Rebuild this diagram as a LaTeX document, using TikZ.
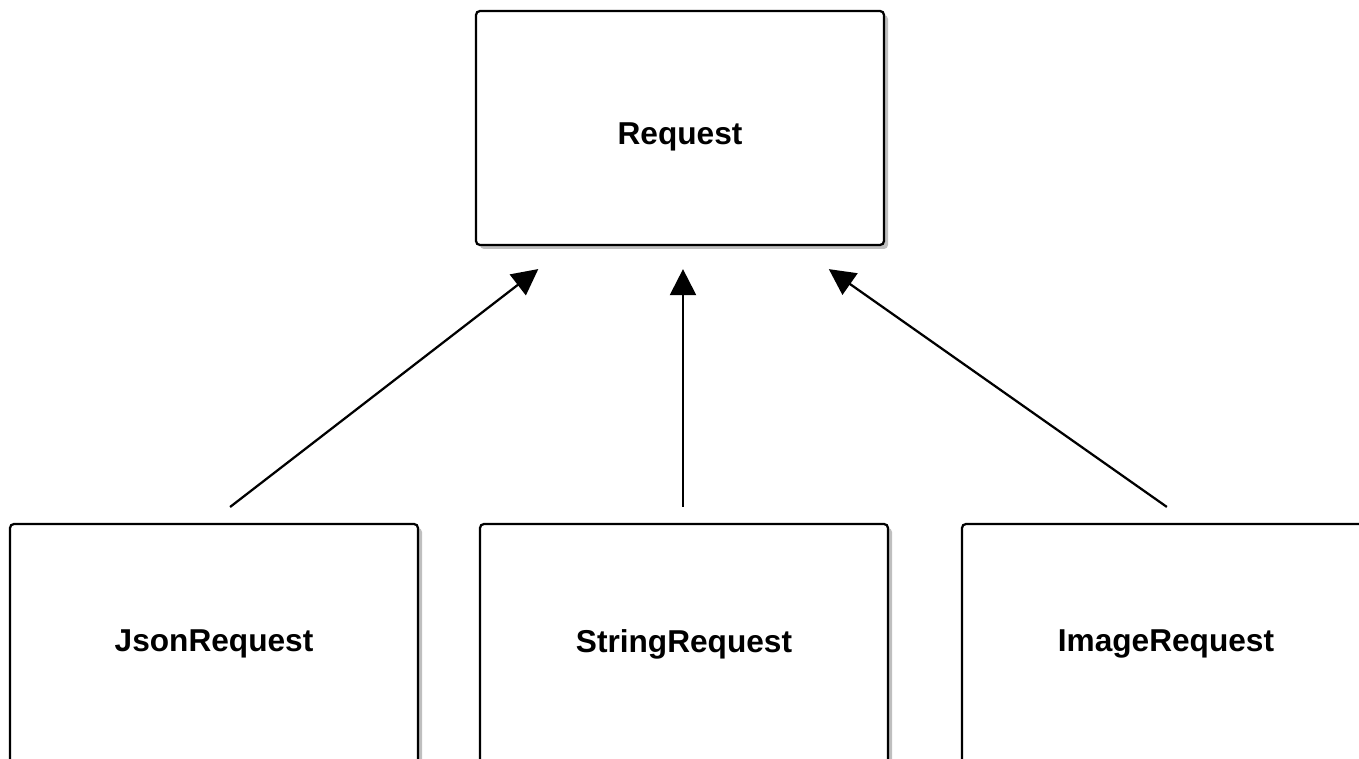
\documentclass[tikz,border=0pt]{standalone}
\usepackage{fontspec}
\setmainfont{Liberation Sans}
\usepackage{tikz}
\usetikzlibrary{arrows.meta}
\usetikzlibrary{shadows}
\usetikzlibrary{calc}
\tikzset{classbox/.style = {draw, fill=white, line width=0.045cm, rounded corners=0.08cm,
                            minimum width=8.16cm, minimum height=4.68cm, inner sep=0pt,
                            font=\fontsize{18}{22}\selectfont\bfseries,
                            drop shadow={shadow xshift=0.08cm, shadow yshift=-0.08cm,
                                         fill=black, opacity=0.25}},
         inherit/.style = {line width=0.045cm,
                           -{Triangle[length=0.52cm, width=0.52cm]}}}

\begin{document}
\begin{tikzpicture}
    \useasboundingbox (0, 0) rectangle (27.18, 15.18);
    \fill [white] (0, 0) rectangle (27.18, 15.18);

    \node [classbox, text height=0.81cm] (req) at (13.6, 12.62) {Request};

    \node [classbox, minimum height=4.8cm] (json)  at (4.28, 2.3)  {JsonRequest};
    \node [classbox, minimum height=4.8cm] (str)   at (13.68, 2.3) {StringRequest};
    \node [classbox, minimum height=4.8cm] (image) at (23.32, 2.3) {ImageRequest};

    \draw [inherit, shorten <=0.52cm, shorten >=0.75cm]
        ([xshift=-0.09cm]json.north) -- ($(req.south west)!0.227!(req.south east)$);
    \draw [inherit, shorten <=0.32cm, shorten >=0.46cm]
        ([xshift=-0.02cm]str.north) -- ([xshift=-0.02cm]str.north |- req.south);
    \draw [inherit, shorten <=0.554cm, shorten >=0.8cm]
        ([xshift=0.47cm]image.north) -- ($(req.south west)!0.783!(req.south east)$);
  \end{tikzpicture}
\end{document}
